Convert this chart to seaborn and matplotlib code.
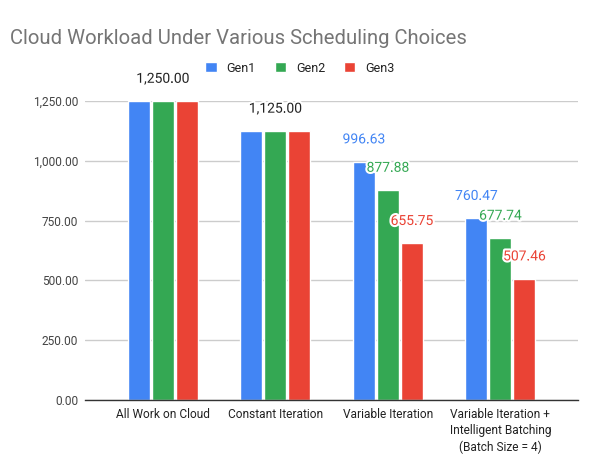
import matplotlib
matplotlib.use("Agg")
import matplotlib.pyplot as plt
import matplotlib.patheffects as pe
from matplotlib.ticker import FuncFormatter
import seaborn as sns
import pandas as pd

# chart data
categories = ["All Work on Cloud", "Constant Iteration", "Variable Iteration",
              "Variable Iteration +\nIntelligent Batching\n(Batch Size = 4)"]
series = ["Gen1", "Gen2", "Gen3"]
gen1 = [1250.00, 1125.00, 996.63, 760.47]
gen2 = [1250.00, 1125.00, 877.88, 677.74]
gen3 = [1250.00, 1125.00, 655.75, 507.46]
y_ticks = [0, 250, 500, 750, 1000, 1250]

colors = {"Gen1": "#4285F4", "Gen2": "#34A853", "Gen3": "#EA4335"}

df = pd.DataFrame({
    "category": categories * 3,
    "series": ["Gen1"] * 4 + ["Gen2"] * 4 + ["Gen3"] * 4,
    "value": gen1 + gen2 + gen3,
})

sns.set_theme(style="white")
plt.rcParams["font.family"] = ["Roboto", "DejaVu Sans"]

fig = plt.figure(figsize=(6, 4.72), dpi=100)
ax = fig.add_axes([85 / 600, 1 - 400 / 472, 493 / 600, 299 / 472])

sns.barplot(data=df, x="category", y="value", hue="series", order=categories,
            hue_order=series, palette=colors, width=0.64, gap=0.08,
            saturation=1, ax=ax, legend=True)

ax.set_xlim(-0.69, 3.69)
ax.set_ylim(0, 1250)
ax.set_yticks(y_ticks)
ax.yaxis.set_major_formatter(FuncFormatter(lambda v, p: f"{v:,.2f}"))
ax.grid(axis="y", color="#cccccc", linewidth=1)
ax.set_axisbelow(True)
for s in ["top", "right", "left"]:
    ax.spines[s].set_visible(False)
ax.spines["bottom"].set_color("#333333")
ax.spines["bottom"].set_linewidth(1)
ax.tick_params(axis="both", length=0, labelsize=8.6)
ax.tick_params(axis="y", colors="#444444", pad=5)
ax.tick_params(axis="x", colors="#222222", pad=6)
for lbl in ax.get_xticklabels():
    lbl.set_linespacing(1.3)
ax.set_xlabel("")
ax.set_ylabel("")

# data labels
halo = [pe.withStroke(linewidth=3, foreground="white")]
vals = [gen1, gen2, gen3]
for i in range(len(categories)):
    same = vals[0][i] == vals[1][i] == vals[2][i]
    if same:
        ax.annotate(f"{vals[0][i]:,.2f}", (i, vals[0][i]), xytext=(0, 16),
                    textcoords="offset points", ha="center", va="center",
                    fontsize=10, color="#222222", annotation_clip=False,
                    path_effects=halo)
    else:
        for j, name in enumerate(series):
            bar = ax.containers[j][i]
            x = bar.get_x() + bar.get_width() / 2
            ax.annotate(f"{vals[j][i]:,.2f}", (x, bar.get_height()), xytext=(0, 16),
                        textcoords="offset points", ha="center", va="center",
                        fontsize=10, color=colors[name], annotation_clip=False,
                        path_effects=halo)

leg = ax.legend(loc="center", bbox_to_anchor=(0.5, 1 - 68 / 472),
                bbox_transform=fig.transFigure, ncol=3, frameon=False,
                fontsize=9, handlelength=0.9, handleheight=0.9,
                handletextpad=0.8, columnspacing=1.5)
for t in leg.get_texts():
    t.set_color("#222222")

fig.text(10 / 600, 1 - 38 / 472, "Cloud Workload Under Various Scheduling Choices",
         fontsize=14.6, color="#757575", ha="left", va="center")

fig.savefig("out.png", dpi=100, facecolor="white")
